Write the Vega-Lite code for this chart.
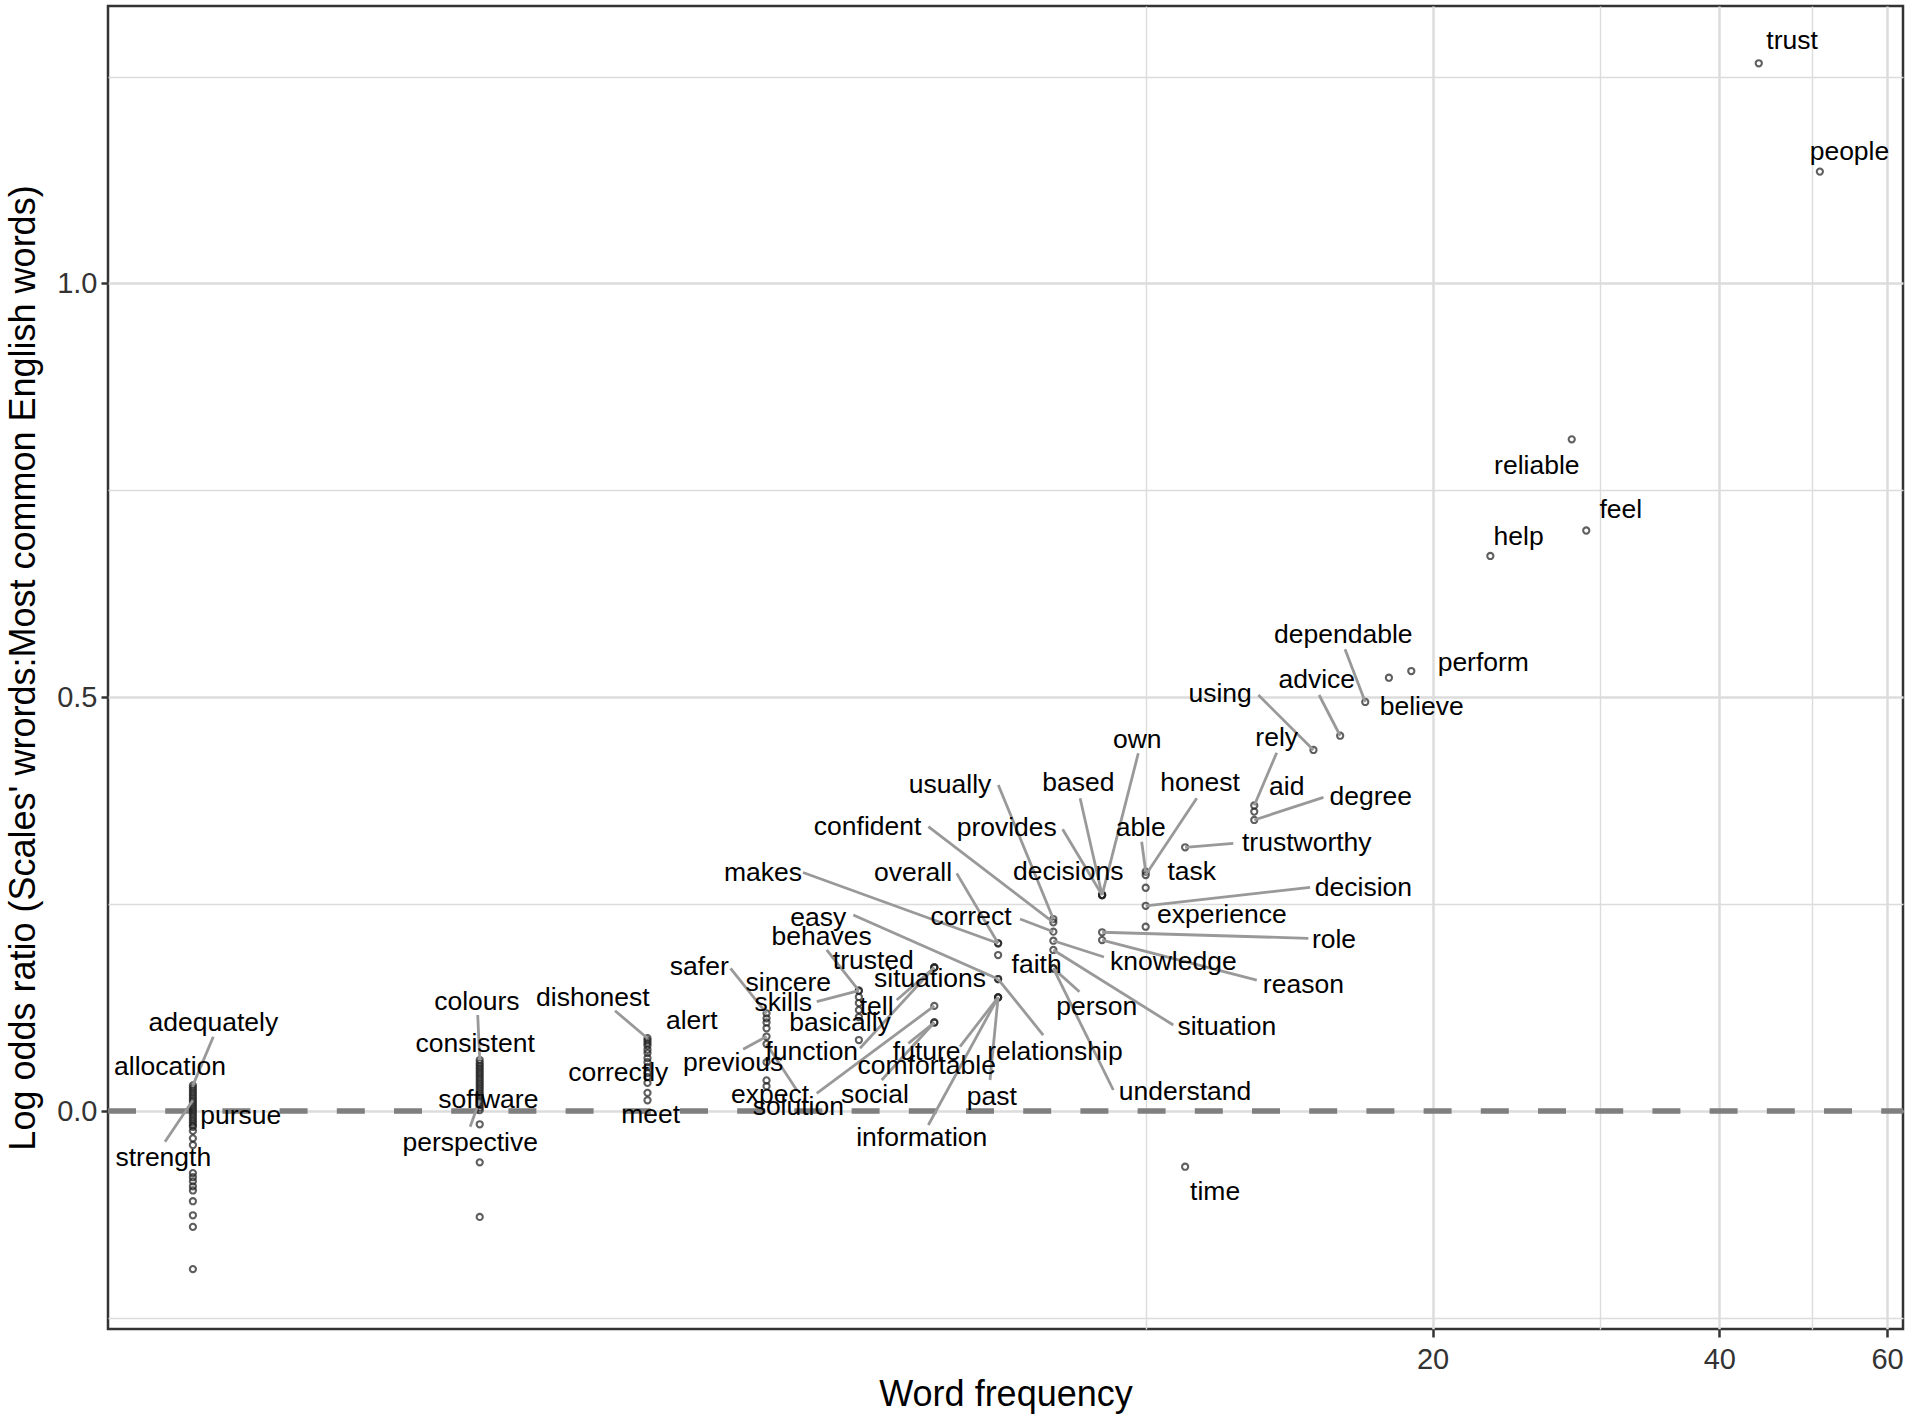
{
  "$schema": "https://vega.github.io/schema/vega-lite/v6.json",
  "width": 1795,
  "height": 1323,
  "autosize": {"type": "none"},
  "padding": {"left": 108, "top": 6, "right": 5, "bottom": 92},
  "background": "white",
  "config": {
    "view": {"stroke": "#333333", "strokeWidth": 2.5},
    "font": "Liberation Sans",
    "axis": {
      "domain": false,
      "gridColor": "#dcdcdc",
      "tickColor": "#333333",
      "tickWidth": 2.5,
      "labelFont": "Liberation Sans",
      "labelFontSize": 29,
      "labelColor": "#333333",
      "labelFlush": false,
      "labelOverlap": false,
      "labelBound": false,
      "titleFont": "Liberation Sans",
      "titleFontSize": 36,
      "titleFontWeight": "normal",
      "titleColor": "#000000"
    }
  },
  "data": {
    "values": [
      {"word": "adequately", "freq": 1, "lo": 0.031, "lx": 1.0505, "ly": 0.106, "sx": 1.0505, "sy": 0.0898},
      {"word": "allocation", "freq": 1, "lo": 0.025, "lx": 0.9462, "ly": 0.0535},
      {"word": "strength", "freq": 1, "lo": 0.013, "lx": 0.931, "ly": -0.0572, "sx": 0.9348, "sy": -0.0371},
      {"word": "pursue", "freq": 1, "lo": -0.002, "lx": 1.1224, "ly": -0.006},
      {"freq": 1, "lo": 0.028}, {"freq": 1, "lo": 0.022}, {"freq": 1, "lo": 0.019}, {"freq": 1, "lo": 0.016},
      {"freq": 1, "lo": 0.010}, {"freq": 1, "lo": 0.007}, {"freq": 1, "lo": 0.004}, {"freq": 1, "lo": 0.001},
      {"freq": 1, "lo": -0.005}, {"freq": 1, "lo": -0.008}, {"freq": 1, "lo": -0.011}, {"freq": 1, "lo": -0.014},
      {"freq": 1, "lo": -0.017}, {"freq": 1, "lo": -0.019}, {"freq": 1, "lo": -0.024}, {"freq": 1, "lo": -0.033},
      {"freq": 1, "lo": -0.041}, {"freq": 1, "lo": -0.075}, {"freq": 1, "lo": -0.080}, {"freq": 1, "lo": -0.085},
      {"freq": 1, "lo": -0.091}, {"freq": 1, "lo": -0.096}, {"freq": 1, "lo": -0.109}, {"freq": 1, "lo": -0.126},
      {"freq": 1, "lo": -0.140}, {"freq": 1, "lo": -0.191},

      {"word": "colours", "freq": 2, "lo": 0.0616, "lx": 1.9863, "ly": 0.1321, "sx": 1.9904, "sy": 0.116},
      {"word": "consistent", "freq": 2, "lo": 0.055, "lx": 1.9781, "ly": 0.081},
      {"word": "software", "freq": 2, "lo": 0.004, "lx": 2.042, "ly": 0.0133},
      {"word": "perspective", "freq": 2, "lo": 0.013, "lx": 1.9543, "ly": -0.039, "sx": 1.9543, "sy": -0.019},
      {"freq": 2, "lo": 0.058}, {"freq": 2, "lo": 0.052}, {"freq": 2, "lo": 0.049}, {"freq": 2, "lo": 0.046},
      {"freq": 2, "lo": 0.043}, {"freq": 2, "lo": 0.040}, {"freq": 2, "lo": 0.037}, {"freq": 2, "lo": 0.034},
      {"freq": 2, "lo": 0.031}, {"freq": 2, "lo": 0.028}, {"freq": 2, "lo": 0.025}, {"freq": 2, "lo": 0.022},
      {"freq": 2, "lo": 0.019}, {"freq": 2, "lo": 0.016}, {"freq": 2, "lo": 0.010}, {"freq": 2, "lo": 0.007},
      {"freq": 2, "lo": 0.001}, {"freq": 2, "lo": -0.016}, {"freq": 2, "lo": -0.062}, {"freq": 2, "lo": -0.128},

      {"word": "dishonest", "freq": 3, "lo": 0.088, "lx": 2.6284, "ly": 0.1362, "sx": 2.7733, "sy": 0.1212},
      {"word": "correctly", "freq": 3, "lo": 0.046, "lx": 2.7955, "ly": 0.0463},
      {"word": "meet", "freq": 3, "lo": 0.013, "lx": 3.0235, "ly": -0.0048},
      {"freq": 3, "lo": 0.085}, {"freq": 3, "lo": 0.082}, {"freq": 3, "lo": 0.079}, {"freq": 3, "lo": 0.074},
      {"freq": 3, "lo": 0.070}, {"freq": 3, "lo": 0.064}, {"freq": 3, "lo": 0.059}, {"freq": 3, "lo": 0.053},
      {"freq": 3, "lo": 0.041}, {"freq": 3, "lo": 0.034}, {"freq": 3, "lo": 0.022},

      {"word": "safer", "freq": 4, "lo": 0.118, "lx": 3.4003, "ly": 0.1744, "sx": 3.6668, "sy": 0.1724},
      {"word": "sincere", "freq": 4, "lo": 0.112, "lx": 4.2162, "ly": 0.1543},
      {"word": "alert", "freq": 4, "lo": 0.1, "lx": 3.3384, "ly": 0.1091},
      {"word": "previous", "freq": 4, "lo": 0.09, "lx": 3.6899, "ly": 0.0576, "sx": 3.7801, "sy": 0.0746},
      {"word": "solution", "freq": 4, "lo": 0.081, "lx": 4.3192, "ly": 0.0052, "sx": 4.3025, "sy": 0.0254},
      {"freq": 4, "lo": 0.107}, {"freq": 4, "lo": 0.059}, {"freq": 4, "lo": 0.037}, {"freq": 4, "lo": 0.030},

      {"word": "behaves", "freq": 5, "lo": 0.1454, "lx": 4.5705, "ly": 0.2106, "sx": 4.6261, "sy": 0.1946},
      {"word": "skills", "freq": 5, "lo": 0.1454, "lx": 4.1655, "ly": 0.1302, "sx": 4.5156, "sy": 0.1321},
      {"word": "trusted", "freq": 5, "lo": 0.1378, "lx": 5.1771, "ly": 0.1813},
      {"word": "basically", "freq": 5, "lo": 0.1136, "lx": 4.7771, "ly": 0.106},
      {"freq": 5, "lo": 0.1305}, {"freq": 5, "lo": 0.122}, {"freq": 5, "lo": 0.0858},

      {"word": "situations", "freq": 6, "lo": 0.1735, "lx": 5.9384, "ly": 0.1592},
      {"word": "tell", "freq": 6, "lo": 0.1735, "lx": 5.2199, "ly": 0.126, "sx": 5.4787, "sy": 0.1341},
      {"word": "function", "freq": 6, "lo": 0.1735, "lx": 4.4613, "ly": 0.0717, "sx": 5.0136, "sy": 0.0758},
      {"word": "expect", "freq": 6, "lo": 0.127, "lx": 4.0341, "ly": 0.0193, "sx": 4.5156, "sy": 0.0214},
      {"word": "social", "freq": 6, "lo": 0.107, "lx": 5.1985, "ly": 0.0193, "sx": 5.2834, "sy": 0.0375},
      {"word": "future", "freq": 6, "lo": 0.107, "lx": 5.8908, "ly": 0.0717, "sx": 5.6347, "sy": 0.0818},

      {"word": "makes", "freq": 7, "lo": 0.2027, "lx": 3.9663, "ly": 0.2882, "sx": 4.3686, "sy": 0.2882},
      {"word": "overall", "freq": 7, "lo": 0.2027, "lx": 5.6989, "ly": 0.2876, "sx": 6.3339, "sy": 0.2872},
      {"freq": 7, "lo": 0.1885},
      {"word": "easy", "freq": 7, "lo": 0.1595, "lx": 4.5331, "ly": 0.2329, "sx": 4.933, "sy": 0.2369},
      {"word": "relationship", "freq": 7, "lo": 0.1595, "lx": 8.03, "ly": 0.0717, "sx": 7.8059, "sy": 0.0918},
      {"word": "past", "freq": 7, "lo": 0.1374, "lx": 6.8929, "ly": 0.0173, "sx": 6.8647, "sy": 0.0375},
      {"word": "information", "freq": 7, "lo": 0.1374, "lx": 5.8202, "ly": -0.033, "sx": 5.914, "sy": -0.0169},
      {"word": "comfortable", "freq": 7, "lo": 0.1374, "lx": 5.8908, "ly": 0.0547, "sx": 6.3845, "sy": 0.0777},

      {"word": "usually", "freq": 8, "lo": 0.232, "lx": 6.2323, "ly": 0.394, "sx": 7.0038, "sy": 0.394},
      {"word": "confident", "freq": 8, "lo": 0.228, "lx": 5.1065, "ly": 0.3427, "sx": 5.914, "sy": 0.3436},
      {"word": "correct", "freq": 8, "lo": 0.2167, "lx": 6.5564, "ly": 0.2348, "sx": 7.3812, "sy": 0.232},
      {"word": "knowledge", "freq": 8, "lo": 0.2058, "lx": 10.69, "ly": 0.1804, "sx": 9.0412, "sy": 0.1861},
      {"word": "situation", "freq": 8, "lo": 0.1946, "lx": 12.165, "ly": 0.1019, "sx": 10.69, "sy": 0.1039},
      {"word": "faith", "freq": 8, "lo": 0.1724, "lx": 7.6822, "ly": 0.1764},
      {"word": "person", "freq": 8, "lo": 0.1724, "lx": 8.8833, "ly": 0.126, "sx": 8.5201, "sy": 0.1442},
      {"word": "understand", "freq": 8, "lo": 0.1724, "lx": 10.997, "ly": 0.0226, "sx": 9.247, "sy": 0.0254},

      {"word": "decisions", "freq": 9, "lo": 0.261, "lx": 8.2923, "ly": 0.2892},
      {"word": "provides", "freq": 9, "lo": 0.261, "lx": 7.1474, "ly": 0.3416, "sx": 8.1808, "sy": 0.3404},
      {"word": "based", "freq": 9, "lo": 0.261, "lx": 8.4996, "ly": 0.396, "sx": 8.5345, "sy": 0.3779},
      {"word": "own", "freq": 9, "lo": 0.261, "lx": 9.799, "ly": 0.4483, "sx": 9.8228, "sy": 0.4323},
      {"word": "role", "freq": 9, "lo": 0.216, "lx": 15.763, "ly": 0.2066, "sx": 14.817, "sy": 0.2087},
      {"word": "reason", "freq": 9, "lo": 0.2066, "lx": 14.639, "ly": 0.1523, "sx": 13.079, "sy": 0.1583},

      {"word": "able", "freq": 10, "lo": 0.2892, "lx": 9.8799, "ly": 0.3416, "sx": 9.9038, "sy": 0.3254},
      {"word": "honest", "freq": 10, "lo": 0.2852, "lx": 11.402, "ly": 0.396, "sx": 11.312, "sy": 0.3779},
      {"word": "task", "freq": 10, "lo": 0.2698, "lx": 11.176, "ly": 0.2892},
      {"word": "decision", "freq": 10, "lo": 0.248, "lx": 16.923, "ly": 0.2691, "sx": 14.878, "sy": 0.2703},
      {"word": "experience", "freq": 10, "lo": 0.2227, "lx": 12.019, "ly": 0.2369},

      {"word": "trustworthy", "freq": 11, "lo": 0.3187, "lx": 14.76, "ly": 0.3235, "sx": 12.36, "sy": 0.3235},
      {"word": "time", "freq": 11, "lo": -0.0673, "lx": 11.826, "ly": -0.0975},

      {"word": "rely", "freq": 13, "lo": 0.3692, "lx": 13.725, "ly": 0.4504, "sx": 13.725, "sy": 0.433},
      {"word": "aid", "freq": 13, "lo": 0.3618, "lx": 14.061, "ly": 0.3919},
      {"word": "degree", "freq": 13, "lo": 0.3517, "lx": 17.229, "ly": 0.3798, "sx": 15.365, "sy": 0.3791},
      {"word": "using", "freq": 15, "lo": 0.4363, "lx": 11.969, "ly": 0.5039, "sx": 13.13, "sy": 0.5027},
      {"word": "advice", "freq": 16, "lo": 0.4535, "lx": 15.121, "ly": 0.5208, "sx": 15.205, "sy": 0.5027},
      {"word": "dependable", "freq": 17, "lo": 0.4943, "lx": 16.122, "ly": 0.5752, "sx": 16.189, "sy": 0.5579},
      {"word": "believe", "freq": 18, "lo": 0.5236, "lx": 19.484, "ly": 0.4882},
      {"word": "perform", "freq": 19, "lo": 0.5317, "lx": 22.612, "ly": 0.5411},
      {"word": "help", "freq": 23, "lo": 0.6707, "lx": 24.627, "ly": 0.6941},
      {"word": "reliable", "freq": 28, "lo": 0.8117, "lx": 25.735, "ly": 0.7795},
      {"word": "feel", "freq": 29, "lo": 0.7015, "lx": 31.524, "ly": 0.7265},
      {"word": "trust", "freq": 44, "lo": 1.2661, "lx": 47.686, "ly": 1.2926},
      {"word": "people", "freq": 51, "lo": 1.1352, "lx": 54.78, "ly": 1.1589}
    ]
  },
  "encoding": {
    "x": {
      "field": "freq", "type": "quantitative", "title": "Word frequency",
      "scale": {"type": "log", "domain": [0.8145, 62.35], "nice": false, "zero": false},
      "axis": {
        "values": [10, 20, 30, 40, 50, 60],
        "format": "d",
        "labelExpr": "datum.value % 20 === 0 ? datum.label : ''",
        "tickSize": 8,
        "tickOpacity": {"condition": {"test": "datum.value % 20 === 0", "value": 1}, "value": 0},
        "gridWidth": {"condition": {"test": "datum.value % 20 === 0", "value": 2.5}, "value": 1.4},
        "labelPadding": 8,
        "titlePadding": 3
      }
    },
    "y": {
      "field": "lo", "type": "quantitative", "title": "Log odds ratio (Scales' wrords:Most common English words)",
      "scale": {"domain": [-0.2634, 1.3353], "nice": false, "zero": false},
      "axis": {
        "values": [-0.25, 0, 0.25, 0.5, 0.75, 1, 1.25],
        "format": ".1f",
        "labelExpr": "datum.value % 0.5 === 0 ? datum.label : ''",
        "tickSize": 7,
        "tickOpacity": {"condition": {"test": "datum.value % 0.5 === 0", "value": 1}, "value": 0},
        "gridWidth": {"condition": {"test": "datum.value % 0.5 === 0", "value": 2.5}, "value": 1.4},
        "labelPadding": 4,
        "titlePadding": 14
      }
    }
  },
  "layer": [
    {
      "data": {"values": [{"lo": 0}]},
      "mark": {"type": "rule", "color": "#7f7f7f", "strokeWidth": 5.5, "strokeDash": [28, 29.2]},
      "encoding": {
        "x": {"value": 0},
        "x2": {"value": 1795}
      }
    },
    {
      "mark": {"type": "point", "shape": "circle", "filled": false, "size": 38, "strokeWidth": 2.1, "color": "#222222", "opacity": 0.72}
    },
    {
      "transform": [{"filter": "isValid(datum.sx)"}],
      "mark": {"type": "rule", "color": "#999999", "strokeWidth": 2.8},
      "encoding": {
        "x2": {"field": "sx"},
        "y2": {"field": "sy"}
      }
    },
    {
      "transform": [{"filter": "isValid(datum.word)"}],
      "mark": {"type": "text", "font": "Liberation Sans", "fontSize": 26.5, "color": "#000000", "align": "center", "baseline": "middle"},
      "encoding": {
        "x": {"field": "lx", "type": "quantitative", "title": "Word frequency",
              "scale": {"type": "log", "domain": [0.8145, 62.35], "nice": false, "zero": false}},
        "y": {"field": "ly", "type": "quantitative", "title": "Log odds ratio (Scales' wrords:Most common English words)",
              "scale": {"domain": [-0.2634, 1.3353], "nice": false, "zero": false}},
        "text": {"field": "word", "type": "nominal"}
      }
    }
  ]
}
